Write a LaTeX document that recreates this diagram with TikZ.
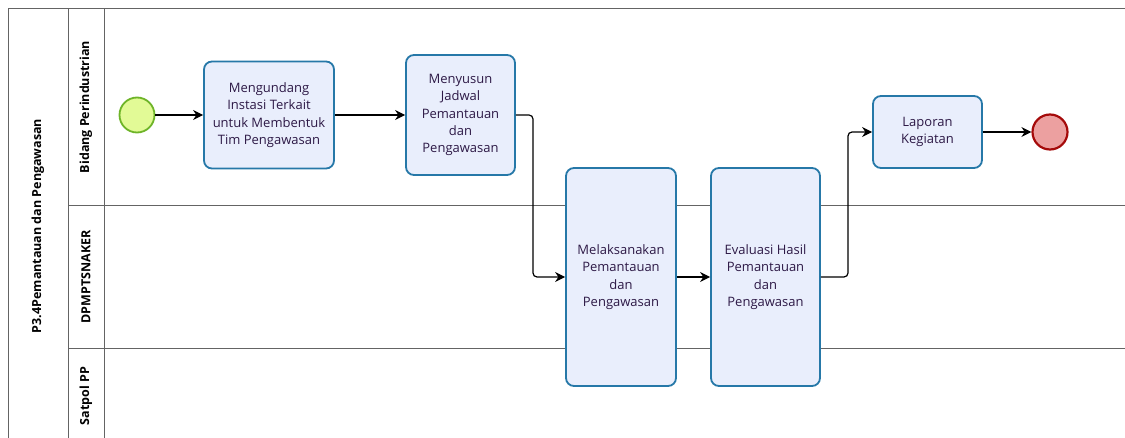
\documentclass[tikz,border=0pt]{standalone}
\usepackage{fontspec}
\setmainfont{Open Sans}
\usetikzlibrary{arrows.meta}
\definecolor{taskfill}{RGB}{233,238,252}
\definecolor{taskdraw}{RGB}{38,120,168}
\definecolor{tasktext}{RGB}{45,25,70}
\definecolor{startfill}{RGB}{226,250,150}
\definecolor{startdraw}{RGB}{110,180,40}
\definecolor{endfill}{RGB}{236,160,160}
\definecolor{enddraw}{RGB}{165,10,10}
\definecolor{poolline}{RGB}{100,100,100}
\tikzset{
  task/.style={draw=taskdraw, fill=taskfill, line width=1.8pt, rounded corners=8pt,
    align=center, text=tasktext, font=\fontsize{13}{17.3}\selectfont, inner sep=2pt},
  flow/.style={draw=black, line width=1.2pt, -{Stealth[length=10pt,width=10pt]}, rounded corners=4pt},
  poolln/.style={draw=poolline, line width=1pt},
  lanelbl/.style={rotate=90, font=\bfseries\fontsize{12.5}{14}\selectfont, text=black},
}
\begin{document}
\begin{tikzpicture}[x=1pt,y=-1pt]
\useasboundingbox (0,0) rectangle (1125,438);
% pool and lanes
\draw[poolln] (8,438) -- (8,9) -- (1125,9);
\draw[poolln] (68,9) -- (68,438);
\draw[poolln] (104,9) -- (104,438);
\draw[poolln] (68,206) -- (1125,206);
\draw[poolln] (68,349) -- (1125,349);
\node[lanelbl] (pool) at (38,226) {P3.4Pemantauan dan Pengawasan};
\node[lanelbl] (l1) at (86,107) {Bidang Perindustrian};
\node[lanelbl] (l2) at (86,277) {DPMPTSNAKER};
\node[lanelbl] (l3) at (86,396) {Satpol PP};
% events
\node[circle, draw=startdraw, fill=startfill, line width=1.8pt, minimum size=35pt, inner sep=0pt] (start) at (137,115) {};
\node[circle, draw=enddraw, fill=endfill, line width=2.2pt, minimum size=35pt, inner sep=0pt] (end) at (1050,132) {};
% tasks
\node[task, minimum width=130pt, minimum height=107pt] (t1) at (269,115) {Mengundang\\Instasi Terkait\\untuk Membentuk\\Tim Pengawasan};
\node[task, minimum width=109pt, minimum height=120pt] (t2) at (460.5,115) {Menyusun\\Jadwal\\Pemantauan\\dan\\Pengawasan};
\node[task, minimum width=110pt, minimum height=218pt] (t3) at (621,277) {Melaksanakan\\Pemantauan\\dan\\Pengawasan};
\node[task, minimum width=109pt, minimum height=218pt] (t4) at (765.5,277) {Evaluasi Hasil\\Pemantauan\\dan\\Pengawasan};
\node[task, minimum width=109pt, minimum height=72pt] (t5) at (927.5,132) {Laporan\\Kegiatan};
% flows
\draw[flow] (start) -- (t1);
\draw[flow] (t1) -- (t2);
\draw[flow] (t2.east) -- (533,115) -- (533,277) -- (t3.west);
\draw[flow] (t3) -- (t4);
\draw[flow] (t4.east) -- (848,277) -- (848,132) -- (t5.west);
\draw[flow] (t5) -- (end);
\end{tikzpicture}
\end{document}
